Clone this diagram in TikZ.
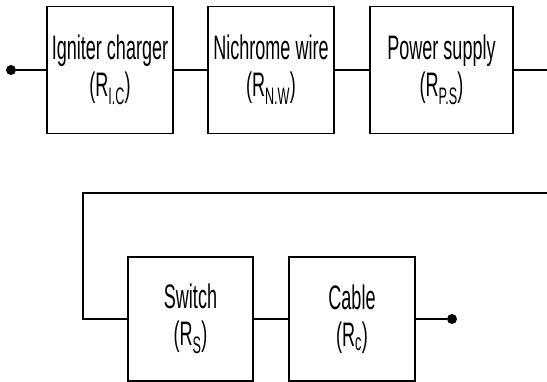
\documentclass[tikz,border=0pt]{standalone}
\usepackage{fontspec}
\usepackage{graphicx}
\setmainfont{Liberation Sans}
\newcommand\sqz[1]{\scalebox{0.53}[1]{#1}}
\tikzset{
  blk/.style={draw, line width=1.7pt, minimum height=127pt, inner sep=0pt,
    align=center, font=\fontsize{34}{37}\selectfont},
  wire/.style={line width=1.7pt},
  term/.style={circle, fill, inner sep=0pt, minimum size=10pt}
}
\begin{document}
\begin{tikzpicture}[x=1pt,y=-1pt]
\useasboundingbox (0,0) rectangle (547,382);
% top row
\node[term] (s) at (11,70) {};
\node[blk, minimum width=126pt] (ic) at (110,70) {\sqz{Igniter charger}\\\sqz{(R\textsubscript{I.C})}};
\node[blk, minimum width=126pt] (nw) at (271,70) {\sqz{Nichrome wire}\\\sqz{(R\textsubscript{N.W})}};
\node[blk, minimum width=143pt] (ps) at (441.5,70) {\sqz{Power supply}\\\sqz{(R\textsubscript{P.S})}};
\coordinate (r1) at (548,70);
\draw[wire] (s) -- (ic);
\draw[wire] (ic) -- (nw);
\draw[wire] (nw) -- (ps);
\draw[wire] (ps) -- (r1);
% bottom row
\node[blk, minimum width=125pt, minimum height=124pt] (sw) at (190.5,319) {\sqz{Switch}\\\sqz{(R\textsubscript{S})}};
\node[blk, minimum width=126pt, minimum height=124pt] (cb) at (352,319) {\sqz{Cable}\\\sqz{(R\textsubscript{c})}};
\node[term] (e) at (452,319) {};
\coordinate (r2) at (548,193);
\coordinate (l) at (83,193);
\draw[wire] (r2) -- (l) |- (sw.west);
\draw[wire] (sw) -- (cb);
\draw[wire] (cb) -- (e);
\end{tikzpicture}
\end{document}
